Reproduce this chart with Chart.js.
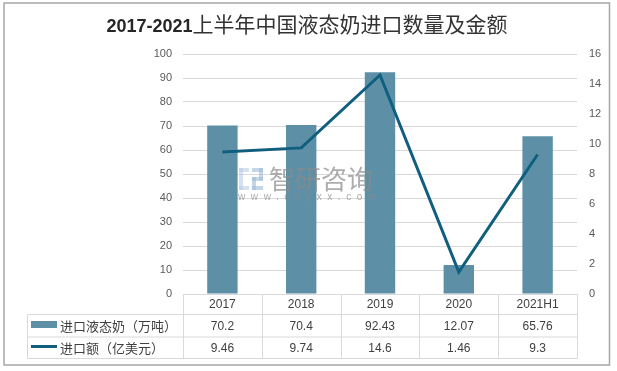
<!DOCTYPE html>
<html>
<head>
<meta charset="utf-8">
<script src="https://cdn.jsdelivr.net/npm/chart.js@4"></script>
<style>
  html, body { margin: 0; padding: 0; background: #ffffff; }
  #wrap { width: 617px; height: 371px; position: relative; }
</style>
</head>
<body>
<div id="wrap"><canvas id="c" width="617" height="371"></canvas></div>
<script>
// ---- data ----
const categories = ['2017', '2018', '2019', '2020', '2021H1'];
const volumeValues = [70.2, 70.4, 92.43, 12.07, 65.76];     // 进口液态奶（万吨）
const amountValues = [9.46, 9.74, 14.6, 1.46, 9.3];         // 进口额（亿美元）
const volumeLabels = ['70.2', '70.4', '92.43', '12.07', '65.76'];
const amountLabels = ['9.46', '9.74', '14.6', '1.46', '9.3'];
const seriesNames = ['进口液态奶（万吨）', '进口额（亿美元）'];
const titleNum = '2017-2021';
const titleCjk = '上半年中国液态奶进口数量及金额';

const BAR_COLOR = '#5D90A7';
const LINE_COLOR = '#115F7F';
const GRID = '#D9D9D9';
const TXT = '#404040';
const CJK = '"Noto Sans CJK SC", "Noto Sans", sans-serif';
const LAT = '"Liberation Sans", Arial, sans-serif';

const decoPlugin = {
  id: 'deco',
  afterDatasetsDraw(chart) {
    const ctx = chart.ctx;
    // watermark
    ctx.save();
    ctx.globalAlpha = 0.6;
    ctx.fillStyle = '#b9cde3';
    ctx.fillRect(239, 168, 10, 4);
    ctx.fillRect(239, 168, 4, 22);
    ctx.fillRect(239, 186, 10, 4);
    ctx.fillStyle = '#9fbad8';
    ctx.fillRect(252, 168, 11, 4);
    ctx.fillRect(259, 168, 4, 12);
    ctx.fillRect(252, 177, 11, 4);
    ctx.fillRect(252, 177, 4, 13);
    ctx.fillRect(252, 186, 11, 4);
    ctx.globalAlpha = 0.7;
    ctx.fillStyle = '#8a8a8a';
    ctx.font = '26px ' + CJK;
    ctx.textBaseline = 'middle';
    ctx.textAlign = 'left';
    ctx.fillText('智研咨询', 269, 179);
    ctx.font = '10px ' + LAT;
    ctx.letterSpacing = '5.6px';
    ctx.fillText('www.chyxx.com', 238, 197);
    ctx.restore();
  },
  afterDraw(chart) {
    const ctx = chart.ctx;
    const x = chart.scales.x;
    const area = chart.chartArea;
    const n = categories.length;
    const cw = (area.right - area.left) / n;
    const tableLeft = 27;
    const y0 = 294, y1 = 314, y2 = 336.5, y3 = 358;
    ctx.save();
    // outer border
    ctx.strokeStyle = '#A6A6A6';
    ctx.lineWidth = 1.5;
    ctx.strokeRect(4, 3, 605.5, 362);

    // title
    ctx.textBaseline = 'alphabetic';
    ctx.textAlign = 'left';
    ctx.font = 'bold 18px ' + LAT;
    const w1 = ctx.measureText(titleNum).width;
    ctx.font = '21px ' + CJK;
    const w2 = ctx.measureText(titleCjk).width;
    const start = 307 - (w1 + w2) / 2;
    ctx.font = 'bold 18px ' + LAT;
    ctx.fillStyle = '#262626';
    ctx.fillText(titleNum, start, 32);
    ctx.font = '21px ' + CJK;
    ctx.fillStyle = '#333333';
    ctx.fillText(titleCjk, start + w1, 32);

    // table grid
    ctx.strokeStyle = GRID;
    ctx.lineWidth = 1;
    const L = Math.round(area.left) + 0.5, R = Math.round(area.right) + 0.5;
    ctx.beginPath();
    ctx.moveTo(L, y0 + 0.5); ctx.lineTo(R, y0 + 0.5);
    ctx.moveTo(tableLeft + 0.5, y1 + 0.5); ctx.lineTo(R, y1 + 0.5);
    ctx.moveTo(tableLeft + 0.5, y2 + 0.5); ctx.lineTo(R, y2 + 0.5);
    ctx.moveTo(tableLeft + 0.5, y3 + 0.5); ctx.lineTo(R, y3 + 0.5);
    ctx.moveTo(tableLeft + 0.5, y1 + 0.5); ctx.lineTo(tableLeft + 0.5, y3 + 0.5);
    for (let i = 0; i <= n; i++) {
      const xx = Math.round(area.left + i * cw) + 0.5;
      ctx.moveTo(xx, y0); ctx.lineTo(xx, y3 + 0.5);
    }
    ctx.stroke();

    // header + values
    ctx.textAlign = 'center';
    ctx.textBaseline = 'middle';
    ctx.fillStyle = TXT;
    ctx.font = '12px ' + LAT;
    for (let i = 0; i < n; i++) {
      const cx = x.getPixelForValue(i);
      ctx.fillText(categories[i], cx, (y0 + y1) / 2 + 1);
      ctx.fillText(volumeLabels[i], cx, (y1 + y2) / 2 + 1);
      ctx.fillText(amountLabels[i], cx, (y2 + y3) / 2 + 1);
    }
    // legend keys
    ctx.fillStyle = BAR_COLOR;
    ctx.fillRect(31, 321, 26, 7);
    ctx.strokeStyle = LINE_COLOR;
    ctx.lineWidth = 3;
    ctx.beginPath();
    ctx.moveTo(31, 346.5); ctx.lineTo(57, 346.5);
    ctx.stroke();
    ctx.textAlign = 'left';
    ctx.fillStyle = TXT;
    ctx.font = '13px ' + CJK;
    ctx.fillText(seriesNames[0], 60, (y1 + y2) / 2 + 1);
    ctx.fillText(seriesNames[1], 60, (y2 + y3) / 2 + 1);
    ctx.restore();
  }
};

new Chart(document.getElementById('c'), {
  data: {
    labels: categories,
    datasets: [
      {
        type: 'line',
        label: seriesNames[1],
        data: amountValues,
        yAxisID: 'y1',
        borderColor: LINE_COLOR,
        backgroundColor: LINE_COLOR,
        borderWidth: 3,
        pointRadius: 0,
        tension: 0,
        order: 1
      },
      {
        type: 'bar',
        label: seriesNames[0],
        data: volumeValues,
        yAxisID: 'y',
        backgroundColor: BAR_COLOR,
        barPercentage: 0.386,
        categoryPercentage: 1,
        order: 2
      }
    ]
  },
  options: {
    responsive: false,
    animation: false,
    devicePixelRatio: 1,
    layout: { padding: { top: 54, bottom: 77, left: 0, right: 0 } },
    plugins: { legend: { display: false }, tooltip: { enabled: false }, title: { display: false } },
    scales: {
      x: { display: false, offset: true },
      y: {
        position: 'left',
        min: 0, max: 100,
        ticks: { stepSize: 10, color: '#595959', font: { family: LAT, size: 11 }, padding: 11 },
        grid: { color: GRID, drawTicks: false },
        border: { display: false },
        afterFit: s => { s.width = 183; }
      },
      y1: {
        position: 'right',
        min: 0, max: 16,
        ticks: { stepSize: 2, color: '#595959', font: { family: LAT, size: 11 }, padding: 12 },
        grid: { display: false, drawTicks: false },
        border: { display: false },
        afterFit: s => { s.width = 40; }
      }
    }
  },
  plugins: [decoPlugin]
});
</script>
</body>
</html>
